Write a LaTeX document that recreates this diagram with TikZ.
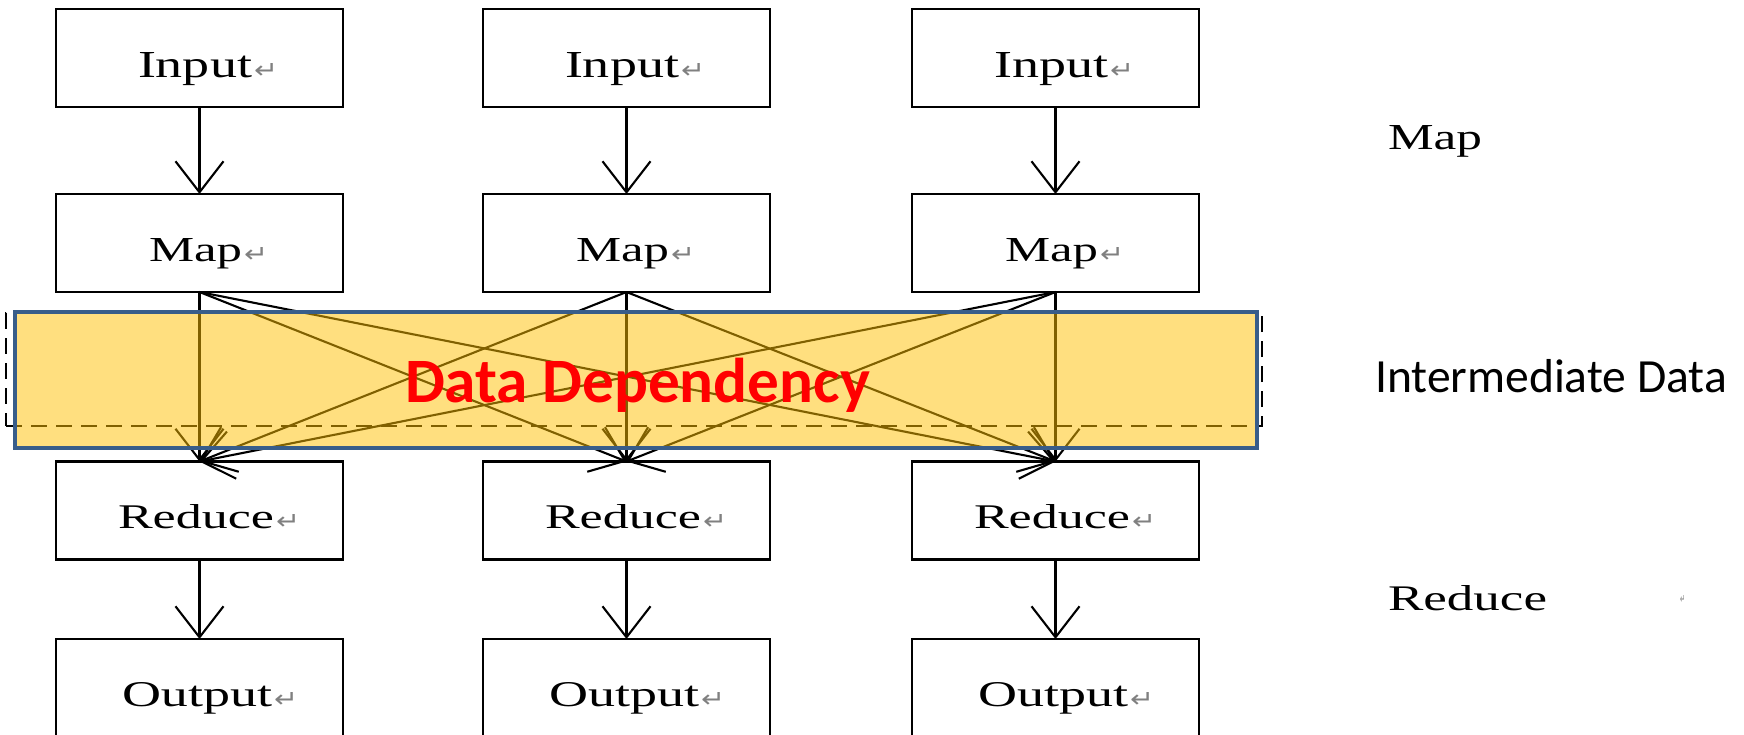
\documentclass[tikz,border=0pt]{standalone}
\usepackage{fontspec}
\setmainfont{Liberation Serif}
\newfontfamily\calibri{Carlito}
\newfontfamily\dejavu{DejaVu Sans}
\usetikzlibrary{arrows.meta}
\definecolor{boxblue}{HTML}{385D8A}
\definecolor{gold}{HTML}{FFC000}
\definecolor{ddred}{HTML}{FF0000}
\newcommand{\wlab}[3]{\resizebox{#1}{#2}{#3}}
\newcommand{\retmark}{{\color{gray}\raisebox{-0.5pt}{\resizebox{12pt}{7.5pt}{\dejavu ↵}}}}
\begin{document}
\begin{tikzpicture}[x=0.5pt,y=-0.5pt,
  box/.style={draw, line width=1.1pt, minimum width=143.5pt, minimum height=49pt, inner sep=0pt, outer sep=0pt},
  arr/.style={line width=1.05pt, -{Straight Barb[length=15.5pt,width=24pt]}},
  lbl/.style={anchor=base west, inner sep=0pt, outer sep=0pt},
  dashbox/.style={draw, line width=1pt, dash pattern=on 8pt off 4.5pt, minimum width=628pt, minimum height=56.5pt, inner sep=0pt, outer sep=0pt},
  ddbox/.style={draw=boxblue, line width=2pt, fill=gold, fill opacity=0.5, draw opacity=1, minimum width=621pt, minimum height=68pt, inner sep=0pt, outer sep=0pt},
]
\useasboundingbox (0,0) rectangle (1744,734);
\foreach \c/\x in {1/0,2/427,3/856}{
  \node[box] (in\c) at (199.5+\x,58) {};
  \node[box] (map\c) at (199.5+\x,243) {};
  \node[box] (red\c) at (199.5+\x,510.5) {};
  \node[box] (out\c) at (199.5+\x,688) {};
  \node[lbl] (tin\c) at (138+\x,77) {\wlab{57pt}{12.5pt}{Input}\hspace{1pt}\retmark};
  \node[lbl] (tmap\c) at (149+\x,261) {\wlab{46.5pt}{11.5pt}{Map}\hspace{1pt}\retmark};
  \node[lbl] (tred\c) at (118+\x,528) {\wlab{78pt}{12pt}{Reduce}\hspace{1pt}\retmark};
  \node[lbl] (tout\c) at (122+\x,706) {\wlab{75pt}{12pt}{Output}\hspace{1pt}\retmark};
}
\foreach \c in {1,2,3}{
  \draw[arr] (in\c) -- (map\c);
  \draw[arr] (red\c) -- (out\c);
}
\foreach \a in {1,2,3}{
  \foreach \b in {1,2,3}{
    \draw[arr] (map\a.south) -- (red\b.north);
  }
}
\node[dashbox] (dash) at (634,369.5) {};
\node[ddbox] (dd) at (636,380) {};
\node[lbl, text=ddred] (ddtext) at (405,402) {\resizebox{232.5pt}{!}{\calibri\bfseries Data Dependency}};
\node[lbl] (rmap) at (1388,149) {\wlab{47pt}{12pt}{Map}};
\node[lbl] (rinter) at (1375,392) {\resizebox{176pt}{!}{\calibri Intermediate Data}};
\node[lbl] (rred) at (1388,610) {\wlab{79.5pt}{12.5pt}{Reduce}};
\node[lbl] (rmark) at (1680,603) {{\color{gray}\resizebox{2.5pt}{4pt}{\dejavu ↵}}};
\end{tikzpicture}
\end{document}
